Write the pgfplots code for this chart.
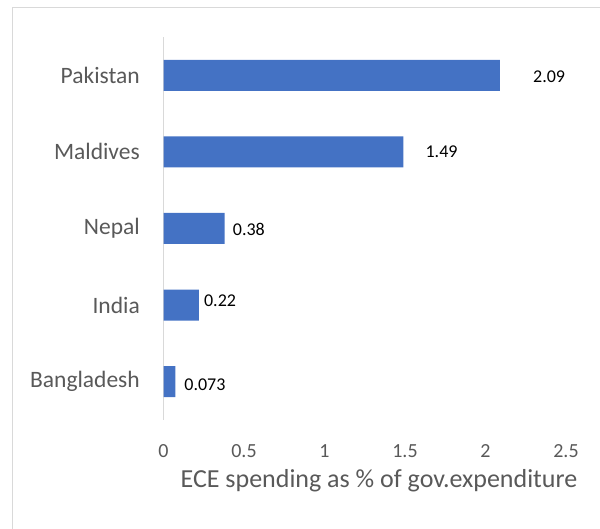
\documentclass[border=0pt]{standalone}
\usepackage{pgfplots}
\pgfplotsset{compat=1.18}
\usepackage{fontspec}
\setmainfont{Carlito}
\definecolor{barblue}{HTML}{4472C4}
\definecolor{txtgray}{HTML}{595959}
\definecolor{framegray}{HTML}{D9D9D9}

\pgfplotstableread{
y v lab dx dy
5 2.09 2.09 33 -1
4 1.49 1.49 22 0
3 0.38 0.38 8 -1
2 0.22 0.22 5 4
1 0.073 0.073 9 -3
}\spending

\begin{document}
\begin{tikzpicture}[x=1pt,y=1pt]
\useasboundingbox (0,0) rectangle (600,529);
% chart frame (only left and top edges visible)
\draw[framegray, line width=1.5pt] (12.5,0) -- (12.5,521.5) -- (600,521.5);
\begin{axis}[
  at={(163.5pt,109pt)}, anchor=south west,
  scale only axis, width=402.5pt, height=383pt,
  xbar, bar width=31pt,
  xmin=0, xmax=2.5, ymin=0.5, ymax=5.5,
  xtick={0,0.5,...,2.5},
  ytick={1,...,5},
  yticklabels={Bangladesh,India,Nepal\hspace{5pt},Maldives,Pakistan},
  axis lines*=left,
  x axis line style={draw=none},
  y axis line style={-, draw=framegray, line width=1.5pt},
  major tick length=0pt,
  tick style={draw=none},
  /pgf/number format/assume math mode=true,
  xticklabel style={font=\fontsize{20}{24}\selectfont, text=txtgray, inner sep=0pt, yshift=-24pt},
  yticklabel style={font=\fontsize{23.5}{28}\selectfont, text=txtgray, inner sep=0pt, xshift=-23.5pt},
  clip=false,
]
\addplot[fill=barblue, draw=none,
  nodes near coords, point meta=explicit symbolic,
  visualization depends on={\thisrow{dx} \as \dx},
  visualization depends on={\thisrow{dy} \as \dy},
  every node near coord/.append style={anchor=west, inner sep=0pt,
    xshift=\dx pt, yshift=\dy pt, font=\fontsize{18}{22}\selectfont, text=black}]
  table[x=v, y=y, meta=lab] {\spending};
\end{axis}
\node[anchor=base, text=txtgray, font=\fontsize{26}{30}\selectfont] at (379,41) {ECE spending as \% of gov.expenditure};
\end{tikzpicture}
\end{document}
